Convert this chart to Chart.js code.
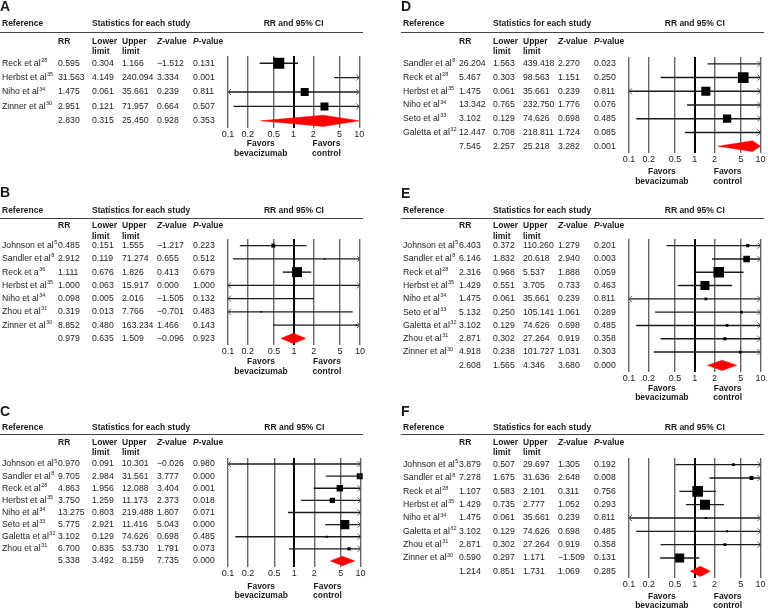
<!DOCTYPE html>
<html>
<head>
<meta charset="utf-8">
<script src="https://cdn.jsdelivr.net/npm/chart.js@4.4.1/dist/chart.umd.min.js"></script>
<style>
  body { margin: 0; background: #fff; }
  #page { position: relative; width: 768px; height: 610px; overflow: hidden; background: #fff; }
  #page canvas { position: absolute; }
</style>
</head>
<body>
<div id="page"></div>
<script>
// Forest plots A-F : RR et IC 95 %, bevacizumab vs contrôle

const tickValues = [0.1, 0.2, 0.5, 1, 2, 5, 10];

// Panel A
const studiesA = ["Reck et al", "Herbst et al", "Niho et al", "Zinner et al"];
const refsA = ["28", "35", "34", "30"];
const rrA = [0.595, 31.563, 1.475, 2.951];
const lowerA = [0.304, 4.149, 0.061, 0.121];
const upperA = [1.166, 240.094, 35.661, 71.957];
const zA = [-1.512, 3.334, 0.239, 0.664];
const pA = [0.131, 0.001, 0.811, 0.507];
const weightA = [47, 3, 25, 25];
const pooledA = [2.830, 0.315, 25.450, 0.928, 0.353]; // RR, bas, haut, Z, P

// Panel B
const studiesB = ["Johnson et al", "Sandler et al", "Reck et a", "Herbst et al", "Niho et al", "Zhou et al", "Zinner et al"];
const refsB = ["5", "8", "36", "35", "34", "31", "30"];
const rrB = [0.485, 2.912, 1.111, 1.000, 0.098, 0.319, 8.852];
const lowerB = [0.151, 0.119, 0.676, 0.063, 0.005, 0.013, 0.480];
const upperB = [1.555, 71.274, 1.826, 15.917, 2.016, 7.766, 163.234];
const zB = [-1.217, 0.655, 0.413, 0.000, -1.505, -0.701, 1.466];
const pB = [0.223, 0.512, 0.679, 1.000, 0.132, 0.483, 0.143];
const weightB = [6, 1, 39, 1, 1, 1, 1];
const pooledB = [0.979, 0.635, 1.509, -0.096, 0.923];

// Panel C
const studiesC = ["Johnson et al", "Sandler et al", "Reck et al", "Herbst et al", "Niho et al", "Seto et al", "Galetta et al", "Zhou et al"];
const refsC = ["5", "8", "28", "35", "34", "33", "32", "31"];
const rrC = [0.970, 9.705, 4.863, 3.750, 13.275, 5.775, 3.102, 6.700];
const lowerC = [0.091, 2.984, 1.956, 1.259, 0.803, 2.921, 0.129, 0.835];
const upperC = [10.301, 31.561, 12.088, 11.173, 219.488, 11.416, 74.626, 53.730];
const zC = [-0.026, 3.777, 3.404, 2.373, 1.807, 5.043, 0.698, 1.791];
const pC = [0.980, 0.000, 0.001, 0.018, 0.071, 0.000, 0.485, 0.073];
const weightC = [1.6, 14, 16, 11, 1, 32, 1.6, 4];
const pooledC = [5.338, 3.492, 8.159, 7.735, 0.000];

// Panel D
const studiesD = ["Sandler et al", "Reck et al", "Herbst et al", "Niho et al", "Seto et al", "Galetta et al"];
const refsD = ["8", "28", "35", "34", "33", "32"];
const rrD = [26.204, 5.467, 1.475, 13.342, 3.102, 12.447];
const lowerD = [1.563, 0.303, 0.061, 0.765, 0.129, 0.708];
const upperD = [439.418, 98.563, 35.661, 232.750, 74.626, 218.811];
const zD = [2.270, 1.151, 0.239, 1.776, 0.698, 1.724];
const pD = [0.023, 0.250, 0.811, 0.076, 0.485, 0.085];
const weightD = [3, 44, 32, 3, 27, 3];
const pooledD = [7.545, 2.257, 25.218, 3.282, 0.001];

// Panel E
const studiesE = ["Johnson et al", "Sandler et al", "Reck et al", "Herbst et al", "Niho et al", "Seto et al", "Galetta et al", "Zhou et al", "Zinner et al"];
const refsE = ["5", "8", "28", "35", "34", "33", "32", "31", "30"];
const rrE = [6.403, 6.146, 2.316, 1.429, 1.475, 5.132, 3.102, 2.871, 4.918];
const lowerE = [0.372, 1.832, 0.968, 0.551, 0.061, 0.250, 0.129, 0.302, 0.238];
const upperE = [110.260, 20.618, 5.537, 3.705, 35.661, 105.141, 74.626, 27.264, 101.727];
const zE = [1.279, 2.940, 1.888, 0.733, 0.239, 1.061, 0.698, 0.919, 1.031];
const pE = [0.201, 0.003, 0.059, 0.463, 0.811, 0.289, 0.485, 0.358, 0.303];
const weightE = [4, 17, 44, 32, 3, 3, 3, 4, 3];
const pooledE = [2.608, 1.565, 4.346, 3.680, 0.000];

// Panel F
const studiesF = ["Johnson et al", "Sandler et al", "Reck et al", "Herbst et al", "Niho et al", "Galetta et al", "Zhou et al", "Zinner et al"];
const refsF = ["5", "8", "28", "35", "34", "32", "31", "30"];
const rrF = [3.879, 7.278, 1.107, 1.429, 1.475, 3.102, 2.871, 0.590];
const lowerF = [0.507, 1.675, 0.583, 0.735, 0.061, 0.129, 0.302, 0.297];
const upperF = [29.697, 31.636, 2.101, 2.777, 35.661, 74.626, 27.264, 1.171];
const zF = [1.305, 2.648, 0.311, 1.052, 0.239, 0.698, 0.919, -1.509];
const pF = [0.192, 0.008, 0.756, 0.293, 0.811, 0.485, 0.358, 0.131];
const weightF = [3, 6, 44, 39, 1.6, 1.6, 3, 32];
const pooledF = [1.214, 0.851, 1.731, 1.069, 0.285];

const FONT = "'Liberation Sans', Arial, Helvetica, sans-serif";
const INK = "#1a1a1a";
Chart.defaults.font.family = FONT;
Chart.defaults.color = INK;

const fmt = (v) => v.toFixed(3).replace("-", "\u2212");

// colonnes du tableau (x dans le canvas)
const col = { ref: 2, rr: 58, lo: 92, hi: 122, z: 157, p: 193 };

function forestPanel(letter, d, box) {
  const w = 367, h = box.bottom - box.top;
  const canvas = document.createElement("canvas");
  canvas.width = w; canvas.height = h;
  canvas.style.left = box.left + "px";
  canvas.style.top = box.top + "px";
  document.getElementById("page").appendChild(canvas);

  const n = d.rr.length;
  const half = 0.39; // demi-hauteur du losange (en lignes)

  const ciLines = d.rr.map((v, i) => ({
    data: [{ x: d.lo[i], y: i }, { x: d.hi[i], y: i }],
    showLine: true, borderColor: INK, borderWidth: 1.4, pointRadius: 0, order: 1
  }));

  const boxes = {
    data: d.rr.map((v, i) => ({ x: v, y: i })),
    pointStyle: "rect",
    pointRadius: d.weight.map(wt => Math.max(1.5, 1.6 * Math.sqrt(wt)) / Math.SQRT2),
    backgroundColor: "#000", borderWidth: 0, order: 0,
    clip: { left: 0, right: 4, top: 8, bottom: 8 }
  };

  const s = d.pooled;
  const dLo = Math.max(s[1], 0.1), dHi = Math.min(s[2], 10);
  const diamond = {
    data: [
      { x: dLo, y: n }, { x: s[0], y: n - half }, { x: dHi, y: n },
      { x: s[0], y: n + half }, { x: dLo, y: n }
    ],
    showLine: true, fill: "shape", backgroundColor: "#ff0000", borderColor: "#ff0000",
    borderWidth: 0.5, pointRadius: 0, order: 2
  };

  const chevrons = {
    id: "chevrons" + letter,
    afterDatasetsDraw(chart) {
      const ctx = chart.ctx, xs = chart.scales.x, ys = chart.scales.y;
      ctx.save();
      ctx.strokeStyle = "#555"; ctx.lineWidth = 1;
      d.rr.forEach((v, i) => {
        const y = ys.getPixelForValue(i);
        if (d.lo[i] < 0.1) {
          const x = xs.getPixelForValue(0.1);
          ctx.beginPath(); ctx.moveTo(x + 3, y - 3); ctx.lineTo(x, y); ctx.lineTo(x + 3, y + 3); ctx.stroke();
        }
        if (d.hi[i] > 10) {
          const x = xs.getPixelForValue(10);
          ctx.beginPath(); ctx.moveTo(x - 3, y - 3); ctx.lineTo(x, y); ctx.lineTo(x - 3, y + 3); ctx.stroke();
        }
      });
      ctx.restore();
    }
  };

  const table = {
    id: "table" + letter,
    afterDraw(chart) {
      const ctx = chart.ctx, xs = chart.scales.x, ys = chart.scales.y;
      const T = box.top;
      ctx.save();
      ctx.fillStyle = INK; ctx.textBaseline = "middle"; ctx.textAlign = "left";

      ctx.font = "bold 14px " + FONT;
      ctx.fillText(letter, 0, box.letterY - T);

      ctx.font = "bold 8.5px " + FONT;
      ctx.fillText("Reference", col.ref, box.refY - T);
      ctx.fillText("Statistics for each study", col.lo, box.refY - T);
      ctx.textAlign = "center";
      ctx.fillText("RR and 95% CI", (xs.left + xs.right) / 2, box.refY - T);
      ctx.textAlign = "left";

      ctx.strokeStyle = "#444"; ctx.lineWidth = 1;
      ctx.beginPath(); ctx.moveTo(0, box.lineY - T + 0.5); ctx.lineTo(363, box.lineY - T + 0.5); ctx.stroke();

      ctx.fillText("RR", col.rr, box.h1Y - T);
      ctx.fillText("Lower", col.lo, box.h1Y - T);
      ctx.fillText("limit", col.lo, box.h2Y - T);
      ctx.fillText("Upper", col.hi, box.h1Y - T);
      ctx.fillText("limit", col.hi, box.h2Y - T);
      [["Z", col.z], ["P", col.p]].forEach(([ch, cx]) => {
        ctx.font = "italic bold 8.5px " + FONT;
        ctx.fillText(ch, cx, box.h1Y - T);
        const cw = ctx.measureText(ch).width;
        ctx.font = "bold 8.5px " + FONT;
        ctx.fillText("-value", cx + cw, box.h1Y - T);
      });

      for (let i = 0; i <= n; i++) {
        const y = ys.getPixelForValue(i);
        const vals = i < n ? [d.rr[i], d.lo[i], d.hi[i], d.z[i], d.p[i]] : s;
        ctx.font = "8.7px " + FONT;
        if (i < n) {
          ctx.fillText(d.studies[i], col.ref, y);
          const nw = ctx.measureText(d.studies[i]).width;
          ctx.font = "5.5px " + FONT;
          ctx.fillText(d.refs[i], col.ref + nw + 0.5, y - 3);
          ctx.font = "8.7px " + FONT;
        }
        [col.rr, col.lo, col.hi, col.z, col.p].forEach((cx, k) => ctx.fillText(fmt(vals[k]), cx, y));
      }

      ctx.font = "bold 8.5px " + FONT;
      ctx.textAlign = "center";
      const xb = xs.getPixelForValue(Math.sqrt(0.1)), xc = xs.getPixelForValue(Math.sqrt(10));
      ctx.fillText("Favors", xb, box.fav1Y - T);
      ctx.fillText("bevacizumab", xb, box.fav2Y - T);
      ctx.fillText("Favors", xc, box.fav1Y - T);
      ctx.fillText("control", xc, box.fav2Y - T);
      ctx.restore();
    }
  };

  const axisH = 14;
  new Chart(canvas, {
    type: "scatter",
    data: { datasets: [boxes, diamond, ...ciLines] },
    options: {
      responsive: false,
      animation: false,
      events: [],
      layout: { padding: { left: 228, right: w - 362, top: box.gTop - box.top, bottom: h - (box.gBot - box.top) - axisH } },
      plugins: { legend: { display: false }, tooltip: { enabled: false } },
      scales: {
        x: {
          type: "logarithmic", min: 0.1, max: 10,
          afterBuildTicks: (sc) => { sc.ticks = tickValues.map(v => ({ value: v })); },
          afterFit: (sc) => { sc.height = axisH; },
          border: { display: false },
          grid: {
            drawTicks: false,
            color: (c) => (c.tick && c.tick.value === 1 ? "#000" : "#666"),
            lineWidth: (c) => (c.tick && c.tick.value === 1 ? 2 : 1.4)
          },
          ticks: { padding: 1, autoSkip: false, maxRotation: 0, font: { size: 9 }, color: INK, callback: (v) => String(v) }
        },
        y: { type: "linear", display: false, reverse: true, min: -0.5, max: n + 0.5 }
      }
    },
    plugins: [chevrons, table]
  });
}

forestPanel("A", { studies: studiesA, refs: refsA, rr: rrA, lo: lowerA, hi: upperA, z: zA, p: pA, weight: weightA, pooled: pooledA },
  { left: 0, top: 0, bottom: 162, letterY: 7, refY: 24, lineY: 32, h1Y: 42, h2Y: 52, gTop: 56, gBot: 128, fav1Y: 144, fav2Y: 154 });
forestPanel("B", { studies: studiesB, refs: refsB, rr: rrB, lo: lowerB, hi: upperB, z: zB, p: pB, weight: weightB, pooled: pooledB },
  { left: 0, top: 184, bottom: 380, letterY: 193, refY: 211, lineY: 218, h1Y: 226, h2Y: 237, gTop: 239, gBot: 345, fav1Y: 362, fav2Y: 372 });
forestPanel("C", { studies: studiesC, refs: refsC, rr: rrC, lo: lowerC, hi: upperC, z: zC, p: pC, weight: weightC, pooled: pooledC },
  { left: 0, top: 402, bottom: 610, letterY: 412, refY: 428, lineY: 434, h1Y: 443, h2Y: 453, gTop: 458, gBot: 567, fav1Y: 587, fav2Y: 596 });
forestPanel("D", { studies: studiesD, refs: refsD, rr: rrD, lo: lowerD, hi: upperD, z: zD, p: pD, weight: weightD, pooled: pooledD },
  { left: 401, top: 0, bottom: 190, letterY: 7, refY: 24, lineY: 32, h1Y: 42, h2Y: 52, gTop: 57, gBot: 153, fav1Y: 172, fav2Y: 182 });
forestPanel("E", { studies: studiesE, refs: refsE, rr: rrE, lo: lowerE, hi: upperE, z: zE, p: pE, weight: weightE, pooled: pooledE },
  { left: 401, top: 186, bottom: 405, letterY: 194, refY: 211, lineY: 218, h1Y: 226, h2Y: 237, gTop: 239, gBot: 372, fav1Y: 389, fav2Y: 398 });
forestPanel("F", { studies: studiesF, refs: refsF, rr: rrF, lo: lowerF, hi: upperF, z: zF, p: pF, weight: weightF, pooled: pooledF },
  { left: 401, top: 402, bottom: 610, letterY: 412, refY: 428, lineY: 434, h1Y: 443, h2Y: 453, gTop: 458, gBot: 578, fav1Y: 597, fav2Y: 606 });
</script>
</body>
</html>
